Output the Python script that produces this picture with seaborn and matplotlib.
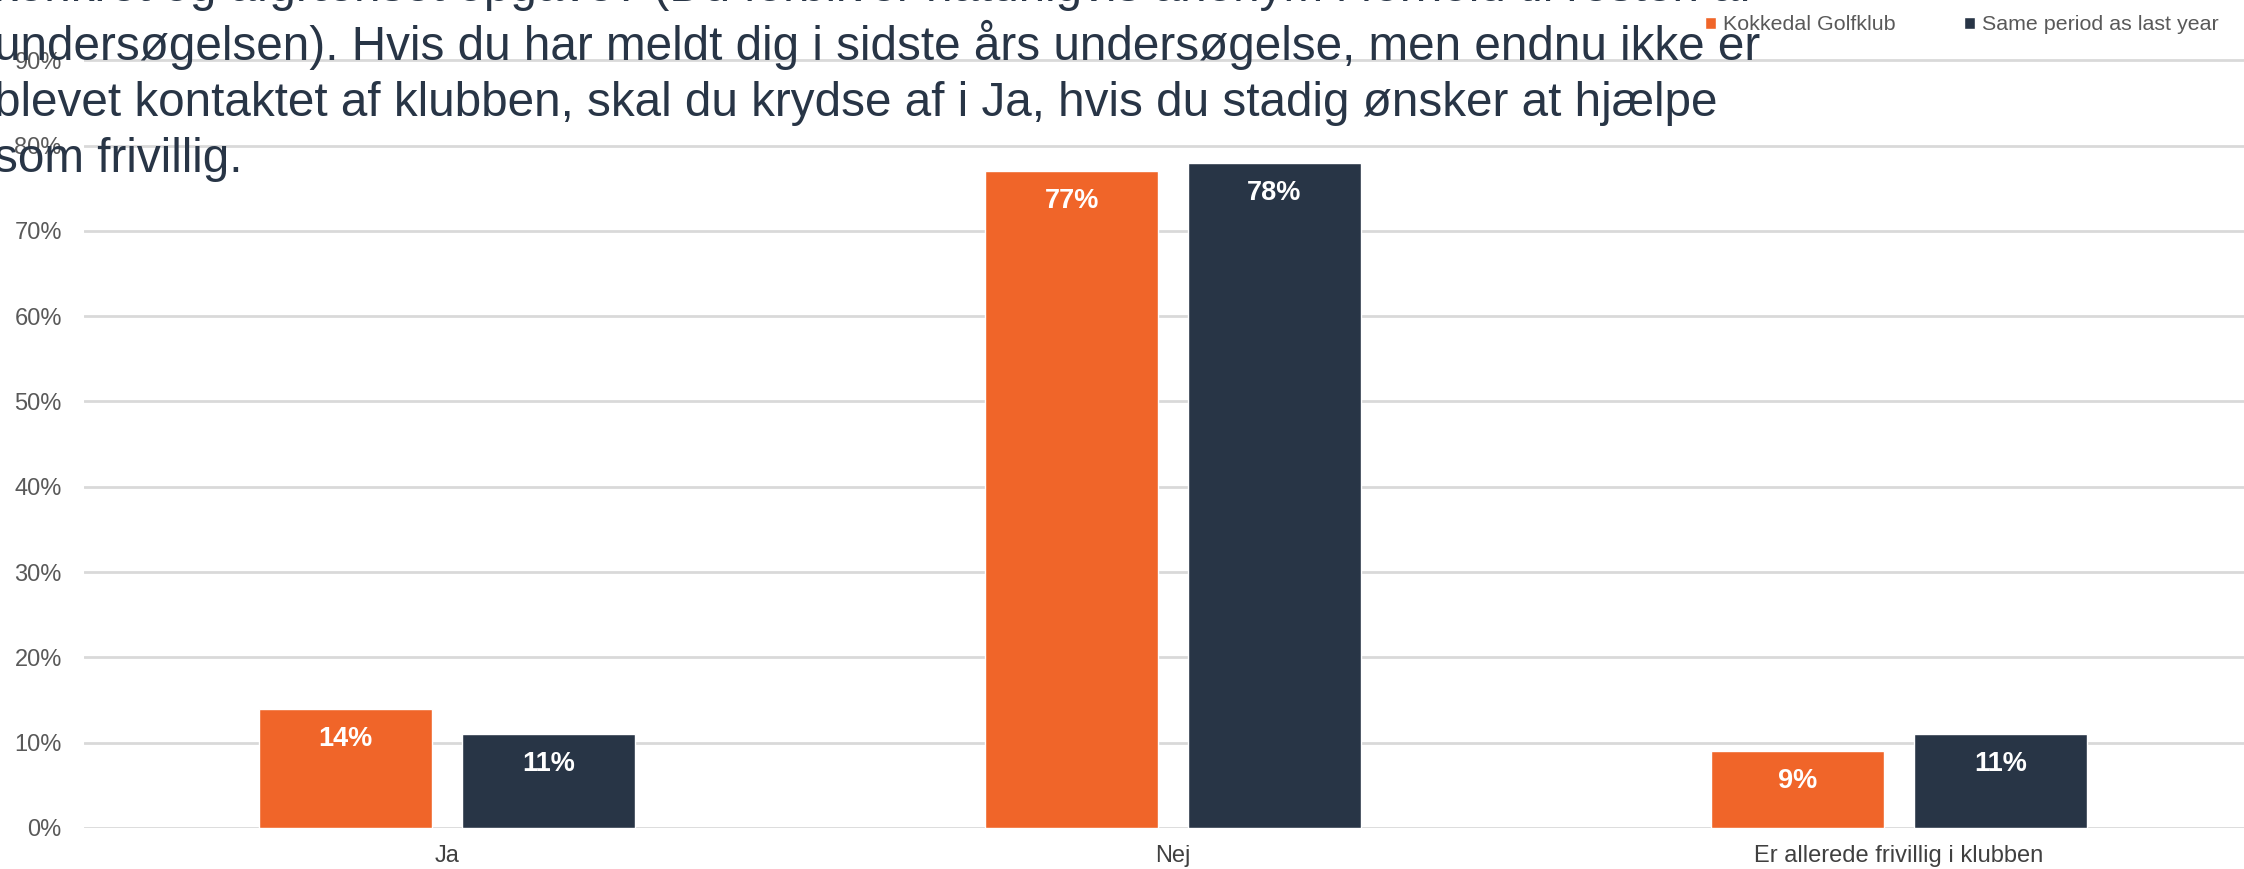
import matplotlib
matplotlib.use("Agg")
import matplotlib.pyplot as plt
import seaborn as sns
import pandas as pd
from matplotlib.ticker import PercentFormatter

# data
categories = ["Ja", "Nej", "Er allerede frivillig i klubben"]
series_names = ["Kokkedal Golfklub", "Same period as last year"]
kokkedal = [0.14, 0.77, 0.09]
last_year = [0.11, 0.78, 0.11]
y_ticks = [0.0, 0.1, 0.2, 0.3, 0.4, 0.5, 0.6, 0.7, 0.8, 0.9]

# question text (cut off at top and left in the original)
title_lines = [
    "konkret og afgrænset opgave? (Du forbliver naturligvis anonym i forhold til resten af",
    "undersøgelsen). Hvis du har meldt dig i sidste års undersøgelse, men endnu ikke er",
    "blevet kontaktet af klubben, skal du krydse af i Ja, hvis du stadig ønsker at hjælpe",
    "som frivillig.",
]

ORANGE = "#F06529"
NAVY = "#283546"
GRID = "#D9D9D9"

sns.set_theme(style="white")
plt.rcParams["font.family"] = ["Liberation Sans", "DejaVu Sans"]

df = pd.DataFrame({
    "kategori": categories * 2,
    "serie": [series_names[0]] * 3 + [series_names[1]] * 3,
    "andel": kokkedal + last_year,
})

W, H, DPI = 2244, 869, 100
fig = plt.figure(figsize=(W / DPI, H / DPI), dpi=DPI)

left_px, bottom_px = 84, 41
ax = fig.add_axes([left_px / W, bottom_px / H, 2178 / W, 0.905 * 853 / H])

sns.barplot(data=df, x="kategori", y="andel", hue="serie",
            palette=[ORANGE, NAVY], width=0.558, gap=0.147,
            saturation=1, ax=ax, legend=True)

ax.set_xlim(-0.5, 2.5)
ax.set_ylim(0, 0.905)
ax.set_yticks(y_ticks)
ax.yaxis.set_major_formatter(PercentFormatter(1.0, decimals=0))
ax.grid(axis="y", color=GRID, linewidth=2)
ax.set_axisbelow(True)
for s in ax.spines.values():
    s.set_visible(False)
ax.set_xlabel("")
ax.set_ylabel("")
ax.tick_params(axis="y", length=0, pad=16, labelsize=17, labelcolor="#595959")
ax.tick_params(axis="x", length=0, pad=12, labelsize=17, labelcolor="#404040")

# value labels inside top of bars
for cont in ax.containers:
    ax.bar_label(cont, labels=[f"{v * 100:.0f}%" for v in cont.datavalues],
                 label_type="edge", padding=-31, color="white",
                 fontsize=19.5, fontweight="bold")

# legend top right
handles, labels = ax.get_legend_handles_labels()
ax.get_legend().remove()
fig.legend(handles, labels, loc="center right",
           bbox_to_anchor=(2219 / W, 1 - 25 / H), ncol=2, frameon=False,
           fontsize=15.4, labelcolor="#595959", handlelength=0.5,
           handleheight=0.5, handletextpad=0.35, columnspacing=3.2,
           borderpad=0, borderaxespad=0)

baselines = [1, 60, 116, 172]
for line, b in zip(title_lines, baselines):
    fig.text(-6 / W, 1 - b / H, line, fontsize=34.3, color=NAVY,
             ha="left", va="baseline")

fig.savefig("out.png", dpi=DPI)
